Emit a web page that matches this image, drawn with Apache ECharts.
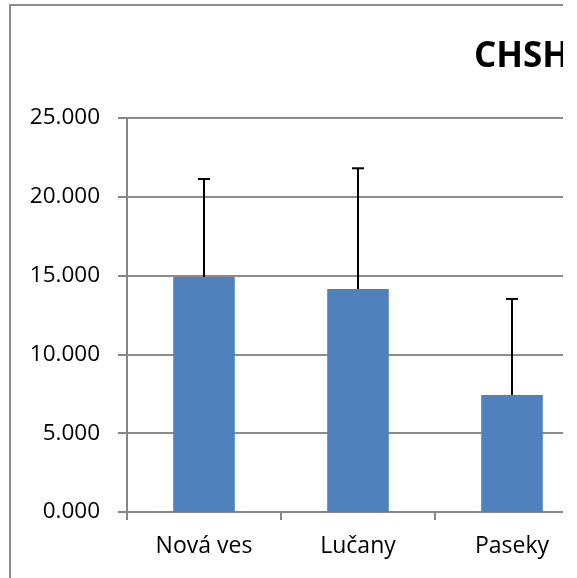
<!DOCTYPE html>
<html>
<head>
<meta charset="utf-8">
<script src="https://cdn.jsdelivr.net/npm/echarts@6/dist/echarts.min.js"></script>
<style>
  html, body { margin: 0; padding: 0; background: #fff; }
  #clip { width: 563px; height: 578px; overflow: hidden; }
  #chart { width: 700px; height: 578px; }
</style>
</head>
<body>
<div id="clip"><div id="chart"></div></div>
<script>
const categories = ['Nová ves', 'Lučany', 'Paseky'];
const means = [14.91, 14.15, 7.42];
const errors = [6.22, 7.66, 6.10];
const titleText = 'CHSH';

const chart = echarts.init(document.getElementById('chart'));
const font = '"Open Sans", sans-serif';

const option = {
  animation: false,
  title: {
    text: titleText,
    left: 474,
    top: 40,
    padding: 0,
    textStyle: { fontFamily: font, fontSize: 35, fontWeight: 'bold', color: '#000' }
  },
  graphic: [{
    type: 'rect',
    shape: { x: 10, y: 5, width: 680, height: 600 },
    style: { fill: 'none', stroke: '#8c8c8c', lineWidth: 2 },
    silent: true
  }],
  grid: { left: 127, top: 118, width: 462, height: 394 },
  xAxis: {
    type: 'category',
    data: categories,
    axisLine: { lineStyle: { color: '#868686', width: 2 } },
    axisTick: { show: true, length: 8, lineStyle: { color: '#868686', width: 2 } },
    axisLabel: { fontFamily: font, fontSize: 23, color: '#000', margin: 23 }
  },
  yAxis: {
    type: 'value',
    min: 0,
    max: 25,
    interval: 5,
    axisLine: { show: true, lineStyle: { color: '#868686', width: 2 } },
    axisTick: { show: true, length: 9, lineStyle: { color: '#868686', width: 2 } },
    splitLine: { lineStyle: { color: '#8c8c8c', width: 2 } },
    axisLabel: {
      fontFamily: font, fontSize: 22.5, color: '#000', margin: 27,
      formatter: v => v.toFixed(3)
    }
  },
  series: [
    {
      type: 'bar',
      data: means,
      barWidth: '40%',
      itemStyle: { color: '#4f81bd' },
      z: 2
    },
    {
      type: 'custom',
      data: means.map((m, i) => [i, m, m + errors[i]]),
      z: 3,
      renderItem: (params, api) => {
        const base = api.coord([api.value(0), api.value(1)]);
        const top = api.coord([api.value(0), api.value(2)]);
        const style = { stroke: '#000', lineWidth: 2 };
        return {
          type: 'group',
          children: [
            { type: 'line', shape: { x1: base[0], y1: base[1], x2: top[0], y2: top[1] }, style },
            { type: 'line', shape: { x1: top[0] - 6, y1: top[1], x2: top[0] + 6, y2: top[1] }, style }
          ]
        };
      }
    }
  ]
};

chart.setOption(option);
</script>
</body>
</html>
